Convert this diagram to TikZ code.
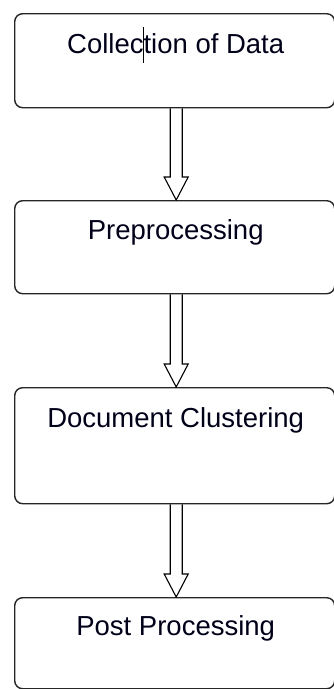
\documentclass[tikz,border=0pt]{standalone}
\usepackage{fontspec}
\setmainfont{Liberation Sans}
\usetikzlibrary{calc}
\tikzset{
  x=1pt, y=-1pt,
  box/.style={draw=black!85, line width=1.4pt, rounded corners=8pt, minimum width=320pt, inner sep=0pt, fill=none},
  lbl/.style={font=\fontsize{27.5}{32}\selectfont, text=black!90!blue, inner sep=0pt},
  hollow/.style={draw=black, line width=1.1pt, line join=miter},
}
\begin{document}
\begin{tikzpicture}
\useasboundingbox (0,0) rectangle (334,689);
\node[box, minimum height=94pt, anchor=north west] (b1) at (14,13) {};
\node[box, minimum height=93pt, anchor=north west] (b2) at (14,200) {};
\node[box, minimum height=116pt, anchor=north west] (b3) at (14,387) {};
\node[box, minimum height=91pt, anchor=north west] (b4) at (14,597) {};
\node[lbl] (t1) at ($(b1.north)+(1,31)$) {Collection of Data};
\node[lbl] (t2) at ($(b2.north)+(1,32)$) {Preprocessing};
\node[lbl] (t3) at ($(b3.north)+(1,33)$) {Document Clustering};
\node[lbl] (t4) at ($(b4.north)+(1,31)$) {Post Processing};
\draw[line width=1pt] (143,27) -- (143,63);
\foreach \a/\b in {b1/b2, b2/b3, b3/b4}{
  \draw[hollow] let \p1=($(\a.south)+(1.5,0)$), \p2=($(\b.north)+(1.5,0)$) in
    (\x1-6pt,\y1) -- (\x1-6pt,\y2+23pt) -- (\x1-12pt,\y2+23pt) -- (\x1,\y2)
    -- (\x1+12pt,\y2+23pt) -- (\x1+6pt,\y2+23pt) -- (\x1+6pt,\y1);
}
\end{tikzpicture}
\end{document}
